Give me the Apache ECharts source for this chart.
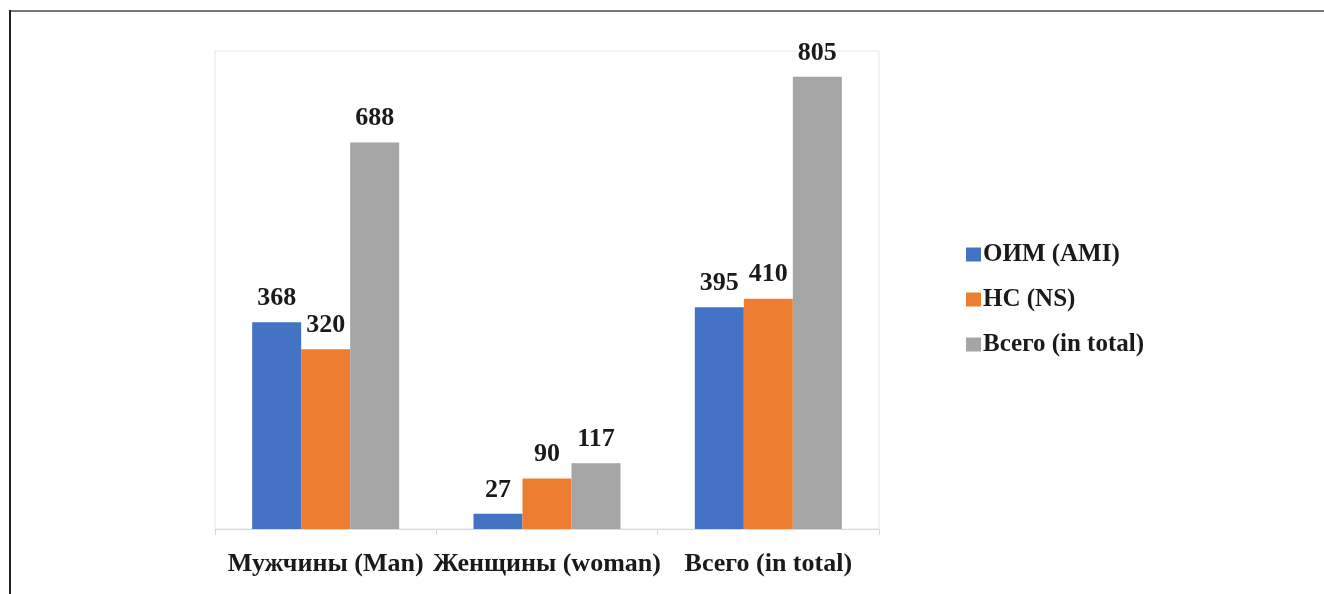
<!DOCTYPE html>
<html>
<head>
<meta charset="utf-8">
<script src="https://cdn.jsdelivr.net/npm/echarts@6/dist/echarts.min.js"></script>
<style>
html,body{margin:0;padding:0;background:#fff;}
#chart{width:1324px;height:594px;}
</style>
</head>
<body>
<div id="chart"></div>
<script>
const categories = ['Мужчины (Man)', 'Женщины (woman)', 'Всего (in total)'];
const seriesNames = ['ОИМ (AMI)', 'НС (NS)', 'Всего (in total)'];
const amiValues = [368, 27, 395];
const nsValues = [320, 90, 410];
const totalValues = [688, 117, 805];
const colors = ['#4472C4', '#ED7D31', '#A5A5A5'];

const FONT = '"Liberation Serif", "Times New Roman", serif';
const chart = echarts.init(document.getElementById('chart'), null, {renderer: 'canvas'});

const labelCfg = {
  show: true,
  position: 'top',
  distance: 11,
  color: '#1a1a1a',
  fontFamily: FONT,
  fontWeight: 'bold',
  fontSize: 26
};

function mkSeries(name, data, color) {
  return {
    name: name,
    type: 'bar',
    data: data,
    barWidth: 49,
    barGap: '0%',
    itemStyle: {color: color},
    label: labelCfg,
    emphasis: {disabled: true}
  };
}

chart.setOption({
  animation: false,
  backgroundColor: '#fff',
  color: colors,
  grid: {
    left: 215, right: 445, top: 51, bottom: 65,
    show: true, borderColor: '#e6e6e6', borderWidth: 1,
    containLabel: false
  },
  legend: {
    orient: 'vertical',
    left: 961,
    top: 237,
    itemWidth: 15,
    itemHeight: 14,
    itemGap: 20,
    icon: 'rect',
    data: seriesNames,
    textStyle: {
      fontFamily: FONT,
      fontWeight: 'bold',
      fontSize: 25,
      color: '#1a1a1a',
      padding: [0, 0, 0, -3]
    }
  },
  xAxis: {
    type: 'category',
    data: categories,
    boundaryGap: true,
    axisLine: {show: true, lineStyle: {color: '#d9d9d9', width: 1}},
    axisTick: {show: true, length: 6, lineStyle: {color: '#d9d9d9'}},
    axisLabel: {
      margin: 22,
      interval: 0,
      color: '#1a1a1a',
      fontFamily: FONT,
      fontWeight: 'bold',
      fontSize: 26
    }
  },
  yAxis: {
    type: 'value',
    min: 0,
    max: 851,
    show: false,
    splitLine: {show: false}
  },
  series: [
    mkSeries(seriesNames[0], amiValues, colors[0]),
    mkSeries(seriesNames[1], nsValues, colors[1]),
    mkSeries(seriesNames[2], totalValues, colors[2])
  ],
  graphic: [
    {type: 'line', shape: {x1: 9, y1: 11, x2: 1324, y2: 11}, style: {stroke: '#7a7a7a', lineWidth: 2}},
    {type: 'line', shape: {x1: 10, y1: 10, x2: 10, y2: 594}, style: {stroke: '#222', lineWidth: 2}}
  ]
});
</script>
</body>
</html>
